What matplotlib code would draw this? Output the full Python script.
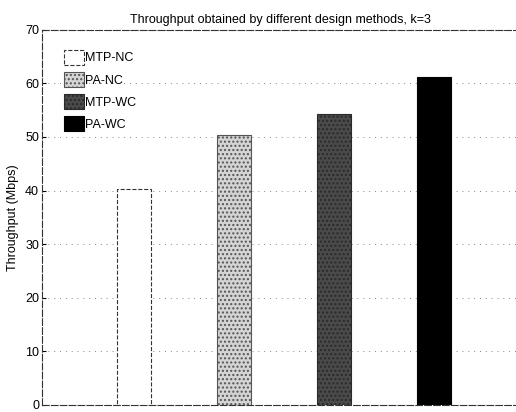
import numpy as np
import matplotlib.pyplot as plt

plt.rcParams['font.family'] = ['Liberation Sans', 'DejaVu Sans']

methods = ["MTP-NC", "PA-NC", "MTP-WC", "PA-WC"]
throughput = [40.3, 50.4, 54.3, 61.1]
yticks = [0, 10, 20, 30, 40, 50, 60, 70]

fig = plt.figure(figsize=(5.16, 4.12), dpi=100)
ax = fig.add_axes([0.081, 0.017, 0.925, 0.911])

faces = ["white", "#d4d4d4", "#4a4a4a", "black"]
edges = ["#333333", "#555555", "#2a2a2a", "black"]
hatches = [None, "....", "....", None]
x = np.arange(1, len(methods) + 1)
for i in range(len(methods)):
    ax.bar(x[i], throughput[i], width=0.34, color=faces[i], edgecolor=edges[i],
           hatch=hatches[i], linewidth=0.8,
           linestyle="--" if i == 0 else "-", label=methods[i], zorder=3)

ax.set_xlim(0.077, 4.85)
ax.set_ylim(0, 70)
ax.set_yticks(yticks)
ax.set_xticks([])
ax.tick_params(axis="y", direction="in", length=3, labelsize=9, pad=2)
ax.yaxis.grid(True, linestyle=(0, (1, 5)), color="#888888", linewidth=0.7)
ax.set_axisbelow(True)
ax.spines["right"].set_visible(False)
for s in ["left", "top", "bottom"]:
    ax.spines[s].set_linestyle((0, (6, 2)))
    ax.spines[s].set_linewidth(0.8)
    ax.spines[s].set_color("#333333")

ax.set_ylabel("Throughput (Mbps)", fontsize=9, labelpad=4)
ax.set_title("Throughput obtained by different design methods, k=3", fontsize=9, pad=5)

leg = ax.legend(loc="upper left", bbox_to_anchor=(0.035, 0.96), frameon=False,
                fontsize=9, handlelength=1.6, handleheight=1.5, handletextpad=0.1,
                labelspacing=0.55, borderaxespad=0)

fig.savefig("out.png", dpi=100)
